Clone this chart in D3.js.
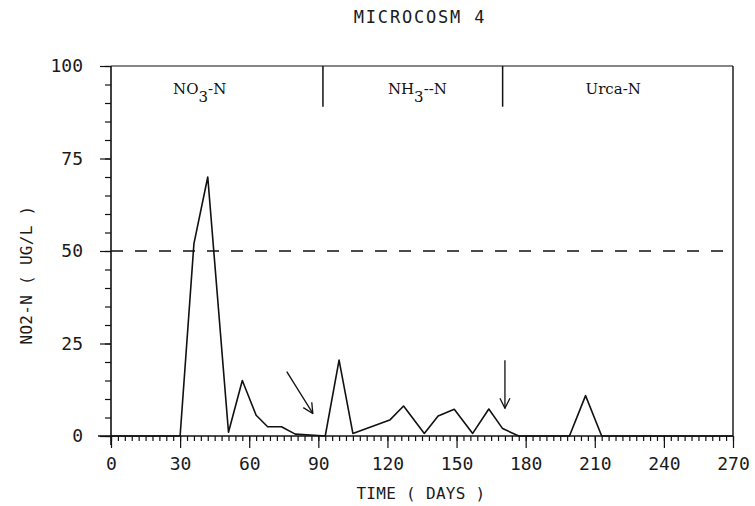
<!DOCTYPE html>
<html><head><meta charset="utf-8">
<script src="https://cdn.jsdelivr.net/npm/d3@7"></script>
<style>
body{margin:0;background:#fff;}
svg{display:block;}
.plot{font-family:"DejaVu Sans Mono",monospace;fill:#1a1a1a;}
.sec{font-family:"DejaVu Serif",serif;fill:#111;}
</style></head>
<body><svg id="c" width="755" height="506"></svg>
<script>
// ---- data ----
const days   = [0, 30, 36, 42, 51, 57, 63, 68, 74, 80, 93, 99, 105, 113, 121, 127, 136, 142, 149, 157, 164, 170, 177, 199, 206, 213, 270];
const no2n   = [0, 0, 52, 70, 1, 15, 5.6, 2.5, 2.5, 0.5, 0, 20.5, 0.7, 2.5, 4.3, 8.1, 0.7, 5.4, 7.2, 0.7, 7.3, 2, 0, 0, 10.9, 0, 0];
const xTicks = [0, 30, 60, 90, 120, 150, 180, 210, 240, 270];
const yTicks = [0, 25, 50, 75, 100];
const sectionBounds = [92, 170];
const sectionNames  = [{main:"NO", sub:"3", tail:"-N", mid:38.5}, {main:"NH", sub:"3", tail:"--N", mid:133}, {main:"Urca-N", sub:"", tail:"", mid:218}];
const refLevel = 50;
const arrows = [{x1:76.3, y1:17.4, x2:87.6, y2:6.1}, {x1:171, y1:20.5, x2:171, y2:7.5}];

const svg = d3.select("#c");
const x = d3.scaleLinear().domain([0, 270]).range([111, 733]);
const y = d3.scaleLinear().domain([0, 100]).range([436, 66]);
const ink = "#111";

// title
svg.append("text").attr("class","plot").attr("x",420).attr("y",23)
  .attr("text-anchor","middle").attr("font-size",17).attr("letter-spacing",1.8)
  .text("MICROCOSM 4");

// x axis minor & major
const xMinor = d3.axisBottom(x).tickValues(d3.range(0, 271, 3)).tickSize(5).tickFormat("").tickSizeOuter(0);
const gxm = svg.append("g").attr("transform",`translate(0,${y(0)})`).call(xMinor);
gxm.select(".domain").remove();
const xMajor = d3.axisBottom(x).tickValues(xTicks).tickSize(12).tickPadding(9).tickSizeOuter(0);
const gx = svg.append("g").attr("transform",`translate(0,${y(0)})`).call(xMajor);
gx.select(".domain").remove();
gx.selectAll("text").attr("font-size",18).attr("font-family","DejaVu Sans Mono").attr("fill","#1a1a1a");

// y axis minor & major
const yMinor = d3.axisLeft(y).tickValues(d3.range(0, 101, 5)).tickSize(6).tickFormat("").tickSizeOuter(0);
const gym = svg.append("g").attr("transform",`translate(${x(0)},0)`).call(yMinor);
gym.select(".domain").remove();
const yMajor = d3.axisLeft(y).tickValues(yTicks).tickSize(11).tickPadding(17).tickSizeOuter(0);
const gy = svg.append("g").attr("transform",`translate(${x(0)},0)`).call(yMajor);
gy.select(".domain").remove();
gy.selectAll("text").attr("font-size",18).attr("font-family","DejaVu Sans Mono").attr("fill","#1a1a1a");
svg.selectAll(".tick line").attr("stroke",ink).attr("stroke-width",1.2);

// frame lines
svg.append("line").attr("x1",x(0)-13).attr("x2",x(270)).attr("y1",y(0)).attr("y2",y(0)).attr("stroke",ink).attr("stroke-width",1.4);
svg.append("line").attr("x1",x(0)).attr("x2",x(0)).attr("y1",y(100)).attr("y2",y(0)+9).attr("stroke",ink).attr("stroke-width",1.6);
svg.append("line").attr("x1",x(0)).attr("x2",x(270)).attr("y1",y(100)).attr("y2",y(100)).attr("stroke",ink).attr("stroke-width",1.2);
svg.append("line").attr("x1",x(270)).attr("x2",x(270)).attr("y1",y(100)).attr("y2",y(0)).attr("stroke",ink).attr("stroke-width",1.4);

// section dividers and labels
sectionBounds.forEach(b => {
  svg.append("line").attr("x1",x(b)).attr("x2",x(b)).attr("y1",y(100)).attr("y2",y(89)).attr("stroke",ink).attr("stroke-width",1.5);
});
sectionNames.forEach(s => {
  const t = svg.append("text").attr("class","sec").attr("x",x(s.mid)).attr("y",y(92.4))
    .attr("text-anchor","middle").attr("font-size",15);
  t.append("tspan").text(s.main);
  if (s.sub) {
    t.append("tspan").attr("dy",8).text(s.sub);
    t.append("tspan").attr("dy",-8).text(s.tail);
  }
});

// reference dashed line
svg.append("line").attr("x1",x(0)).attr("x2",x(270)).attr("y1",y(refLevel)).attr("y2",y(refLevel))
  .attr("stroke",ink).attr("stroke-width",1.3).attr("stroke-dasharray","12,12");

// data line
const line = d3.line().x((d,i)=>x(days[i])).y(d=>y(d));
svg.append("path").datum(no2n).attr("d",line).attr("fill","none").attr("stroke",ink).attr("stroke-width",1.6).attr("stroke-linejoin","round");

// arrows
svg.append("defs").append("marker").attr("id","ah").attr("viewBox","0 0 12 12")
  .attr("refX",11).attr("refY",6).attr("markerWidth",12).attr("markerHeight",12)
  .attr("markerUnits","userSpaceOnUse").attr("orient","auto")
  .append("path").attr("d","M1,1 L11,6 L1,11").attr("fill","none").attr("stroke",ink).attr("stroke-width",1.3);
arrows.forEach(a => {
  svg.append("line").attr("x1",x(a.x1)).attr("y1",y(a.y1)).attr("x2",x(a.x2)).attr("y2",y(a.y2))
    .attr("stroke",ink).attr("stroke-width",1.3).attr("marker-end","url(#ah)");
});

// axis titles
svg.append("text").attr("class","plot").attr("x",421).attr("y",499).attr("text-anchor","middle")
  .attr("font-size",16).attr("letter-spacing",0.3).text("TIME ( DAYS )");
svg.append("text").attr("class","plot").attr("transform","translate(32,275) rotate(-90)")
  .attr("text-anchor","middle").attr("font-size",16).attr("letter-spacing",0.3).text("NO2-N ( UG/L )");
</script></body></html>
